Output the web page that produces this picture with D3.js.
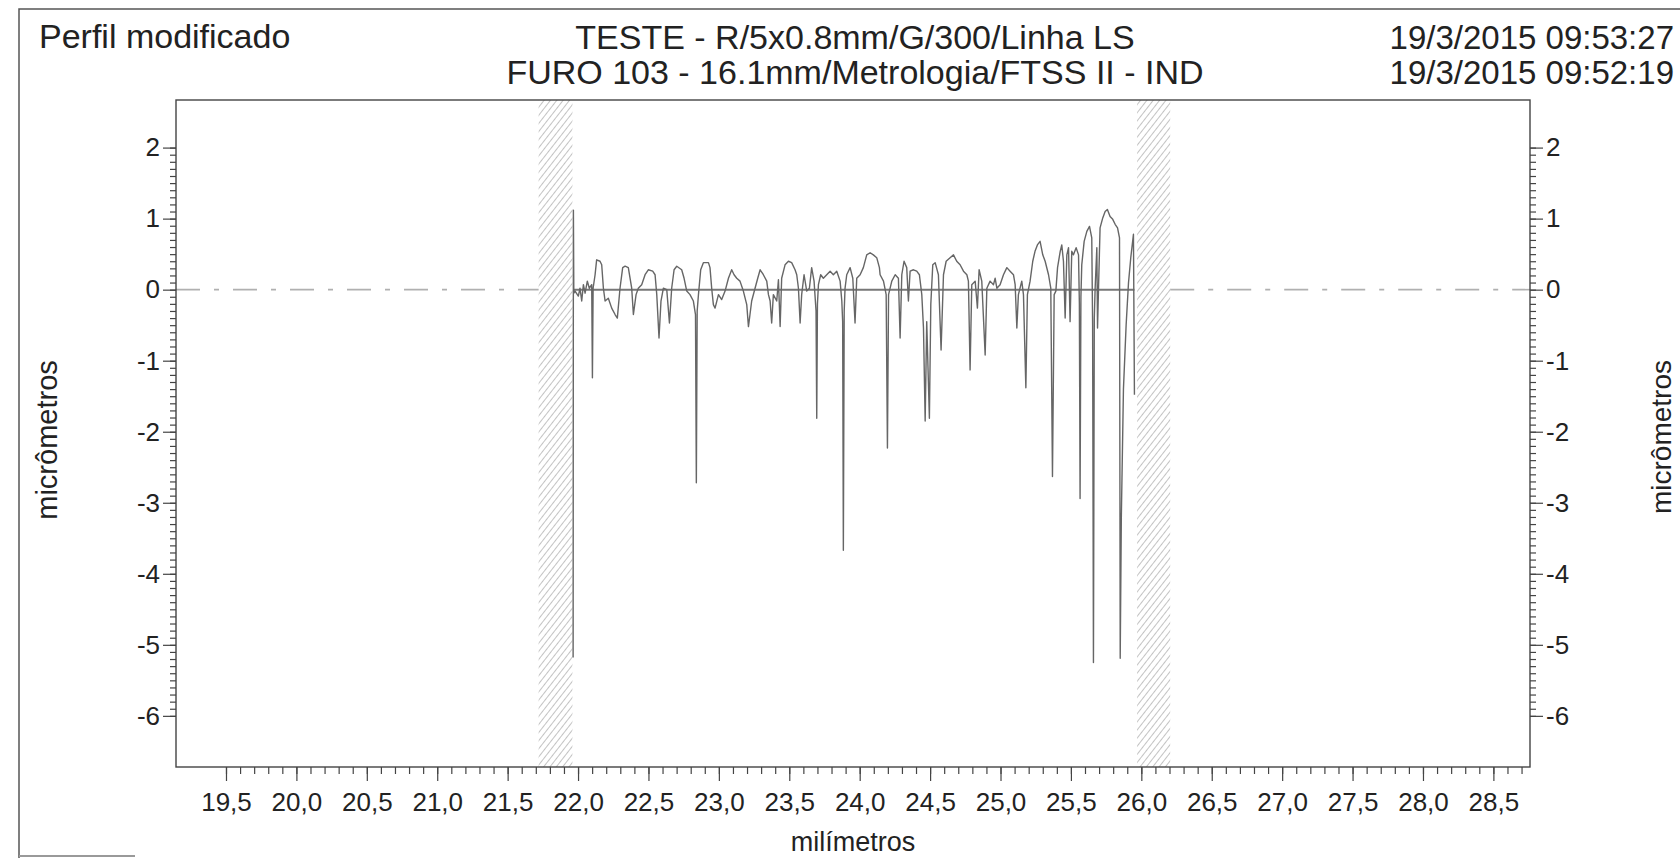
<!DOCTYPE html>
<html>
<head>
<meta charset="utf-8">
<script src="https://cdn.jsdelivr.net/npm/d3@7"></script>
<style>
  body { margin: 0; background: #fff; }
  svg { display: block; }
  text { font-family: "Liberation Sans", Arial, sans-serif; fill: #222; }
</style>
</head>
<body>
<div id="chart"></div>
<script>
// header texts
var titleLeft = "Perfil modificado";
var titleLines = ["TESTE - R/5x0.8mm/G/300/Linha LS", "FURO 103 - 16.1mm/Metrologia/FTSS II - IND"];
var dateLines = ["19/3/2015 09:53:27", "19/3/2015 09:52:19"];
var xTitle = "milímetros";
var yTitle = "micrômetros";

// axes (mm / µm)
var xDomain = [19.145, 28.76];
var yDomain = [-6.72, 2.67];
var xMajorTicks = [19.5, 20, 20.5, 21, 21.5, 22, 22.5, 23, 23.5, 24, 24.5, 25, 25.5, 26, 26.5, 27, 27.5, 28, 28.5];
var yMajorTicks = [-6, -5, -4, -3, -2, -1, 0, 1, 2];

// hatched (excluded) zones and the evaluated span
var excludedZones = [[21.72, 21.96], [25.97, 26.205]];
var evalSpan = [21.967, 25.951];

// measured profile, [mm, µm]
var profile = [
  [21.965,-5.18],[21.967,1.12],[21.970,-0.05],[21.979,-0.02],[22.002,-0.09],[22.014,0.02],[22.026,-0.16],[22.038,0.07],
  [22.050,-0.05],[22.066,0.12],[22.080,0.02],[22.097,0.07],[22.102,-1.24],[22.107,0.02],[22.121,0.21],[22.132,0.42],
  [22.156,0.40],[22.168,0.35],[22.180,0.02],[22.192,-0.16],[22.215,-0.12],[22.239,-0.26],[22.263,-0.35],[22.279,-0.40],
  [22.298,0.02],[22.317,0.31],[22.334,0.33],[22.357,0.31],[22.381,0.02],[22.393,-0.35],[22.412,-0.07],[22.428,0.02],
  [22.452,0.07],[22.476,0.21],[22.499,0.28],[22.530,0.26],[22.547,0.21],[22.559,-0.07],[22.575,-0.68],[22.589,-0.16],
  [22.606,0.02],[22.630,0.00],[22.649,-0.47],[22.665,0.02],[22.682,0.28],[22.701,0.33],[22.736,0.28],[22.753,0.16],
  [22.772,-0.02],[22.795,-0.07],[22.819,-0.16],[22.834,-0.35],[22.840,-2.72],[22.846,-0.30],[22.855,-0.07],[22.871,0.28],
  [22.890,0.38],[22.926,0.38],[22.937,0.31],[22.949,0.02],[22.961,-0.21],[22.973,-0.26],[22.997,-0.07],[23.020,-0.14],
  [23.044,-0.02],[23.068,0.16],[23.091,0.28],[23.108,0.21],[23.127,0.16],[23.150,0.12],[23.174,-0.02],[23.198,-0.21],
  [23.210,-0.52],[23.221,-0.35],[23.233,-0.16],[23.257,0.02],[23.276,0.16],[23.293,0.28],[23.316,0.21],[23.340,0.12],
  [23.352,-0.07],[23.364,-0.16],[23.375,-0.47],[23.387,-0.07],[23.411,-0.16],[23.423,0.14],[23.435,-0.52],[23.446,0.16],
  [23.470,0.35],[23.494,0.40],[23.517,0.38],[23.541,0.28],[23.553,0.21],[23.565,0.02],[23.577,-0.47],[23.588,-0.07],
  [23.605,0.21],[23.624,-0.02],[23.643,0.02],[23.659,0.31],[23.676,0.12],[23.690,-0.30],[23.695,-1.81],[23.700,-0.20],
  [23.707,0.07],[23.723,0.21],[23.742,0.16],[23.766,0.21],[23.790,0.26],[23.813,0.21],[23.837,0.26],[23.861,0.12],
  [23.873,-0.16],[23.879,-0.45],[23.884,-3.67],[23.890,-0.30],[23.896,0.02],[23.908,0.21],[23.932,0.31],[23.951,0.16],
  [23.967,-0.47],[23.979,0.16],[24.003,0.21],[24.026,0.31],[24.050,0.49],[24.074,0.52],[24.097,0.49],[24.121,0.45],
  [24.140,0.31],[24.145,0.21],[24.169,0.12],[24.188,-0.07],[24.197,-2.23],[24.205,-0.07],[24.228,0.12],[24.252,0.21],
  [24.275,0.16],[24.287,-0.68],[24.299,0.21],[24.315,0.40],[24.334,0.31],[24.346,-0.16],[24.358,0.26],[24.382,0.28],
  [24.405,0.26],[24.424,0.21],[24.441,-0.07],[24.453,-0.54],[24.465,-1.85],[24.476,-0.45],[24.495,-1.81],[24.505,-0.21],
  [24.519,0.35],[24.536,0.38],[24.559,0.21],[24.578,-0.85],[24.595,0.21],[24.614,0.40],[24.642,0.45],[24.666,0.49],
  [24.689,0.40],[24.713,0.35],[24.737,0.26],[24.761,0.21],[24.772,0.12],[24.784,-1.13],[24.796,0.07],[24.820,0.12],
  [24.836,-0.26],[24.848,0.28],[24.867,0.12],[24.891,-0.92],[24.903,0.02],[24.926,0.12],[24.950,0.07],[24.962,0.16],
  [24.974,0.02],[24.997,0.07],[25.021,0.21],[25.045,0.31],[25.068,0.26],[25.092,0.21],[25.104,0.07],[25.116,-0.54],
  [25.127,-0.07],[25.151,0.12],[25.163,-0.07],[25.180,-1.38],[25.191,-0.07],[25.210,0.12],[25.229,0.40],[25.245,0.54],
  [25.262,0.63],[25.281,0.68],[25.300,0.49],[25.317,0.40],[25.341,0.21],[25.357,0.02],[25.369,-2.63],[25.381,-0.07],
  [25.393,-0.02],[25.405,0.31],[25.424,0.54],[25.435,0.63],[25.447,0.40],[25.459,-0.40],[25.471,0.49],[25.483,0.59],
  [25.494,-0.45],[25.506,0.54],[25.518,0.49],[25.537,0.59],[25.554,0.49],[25.560,-0.20],[25.565,-2.94],[25.571,-0.10],
  [25.577,0.35],[25.594,0.68],[25.613,0.82],[25.632,0.89],[25.648,0.73],[25.654,-0.50],[25.660,-5.25],[25.666,-0.40],
  [25.672,0.02],[25.684,0.59],[25.689,-0.54],[25.696,0.02],[25.707,0.87],[25.726,1.01],[25.743,1.10],[25.759,1.13],
  [25.778,1.03],[25.797,0.99],[25.814,0.92],[25.831,0.87],[25.845,0.73],[25.850,-5.19],[25.858,-3.20],[25.873,-1.40],
  [25.892,-0.50],[25.909,0.10],[25.925,0.45],[25.944,0.78],[25.951,-1.48]
];

var width = 1680, height = 858;
var plot = { left: 176, top: 100, right: 1530, bottom: 767 };

var svg = d3.select("#chart").append("svg")
  .attr("width", width)
  .attr("height", height);

var x = d3.scaleLinear().domain(xDomain).range([plot.left, plot.right]);
var y = d3.scaleLinear().domain(yDomain).range([plot.bottom, plot.top]);

// hatch pattern for the excluded zones
svg.append("defs").append("pattern")
  .attr("id", "hatch")
  .attr("patternUnits", "userSpaceOnUse")
  .attr("width", 5)
  .attr("height", 5)
  .attr("patternTransform", "rotate(38)")
  .append("line")
  .attr("x1", 0).attr("y1", 0)
  .attr("x2", 0).attr("y2", 5)
  .attr("stroke", "#888")
  .attr("stroke-width", 1);

// outer frame (page border)
svg.append("path")
  .attr("d", "M19," + height + "V9H" + width)
  .attr("fill", "none")
  .attr("stroke", "#555")
  .attr("stroke-width", 1.5);
svg.append("line")
  .attr("x1", 19).attr("x2", 135)
  .attr("y1", 856).attr("y2", 856)
  .attr("stroke", "#999")
  .attr("stroke-width", 2);

// header
svg.append("text")
  .attr("x", 39).attr("y", 48)
  .style("font-size", "34px")
  .text(titleLeft);

svg.selectAll(".title")
  .data(titleLines)
  .enter().append("text")
  .attr("class", "title")
  .attr("x", 855)
  .attr("y", function (d, i) { return 49 + i * 35; })
  .attr("text-anchor", "middle")
  .style("font-size", "34px")
  .text(function (d) { return d; });

svg.selectAll(".date")
  .data(dateLines)
  .enter().append("text")
  .attr("class", "date")
  .attr("x", 1674)
  .attr("y", function (d, i) { return 49 + i * 35; })
  .attr("text-anchor", "end")
  .style("font-size", "33px")
  .text(function (d) { return d; });

// excluded zones
svg.selectAll(".zone")
  .data(excludedZones)
  .enter().append("rect")
  .attr("class", "zone")
  .attr("x", function (d) { return x(d[0]); })
  .attr("y", plot.top)
  .attr("width", function (d) { return x(d[1]) - x(d[0]); })
  .attr("height", plot.bottom - plot.top)
  .attr("fill", "url(#hatch)");

// reference line: dash-dot outside the evaluated span, solid inside
var refParts = [[xDomain[0], excludedZones[0][0]], [excludedZones[1][1], xDomain[1]]];
svg.selectAll(".ref")
  .data(refParts)
  .enter().append("line")
  .attr("class", "ref")
  .attr("x1", function (d) { return x(d[0]); })
  .attr("x2", function (d) { return x(d[1]); })
  .attr("y1", y(0)).attr("y2", y(0))
  .attr("stroke", "#b0b0b0")
  .attr("stroke-width", 1.6)
  .attr("stroke-dasharray", "24,14,5,14");

svg.append("line")
  .attr("x1", x(evalSpan[0])).attr("x2", x(evalSpan[1]))
  .attr("y1", y(0)).attr("y2", y(0))
  .attr("stroke", "#777")
  .attr("stroke-width", 2);

// profile
var line = d3.line()
  .x(function (d) { return x(d[0]); })
  .y(function (d) { return y(d[1]); });

svg.append("path")
  .datum(profile)
  .attr("d", line)
  .attr("fill", "none")
  .attr("stroke", "#666")
  .attr("stroke-width", 1.4)
  .attr("stroke-linejoin", "round");

// plot box
svg.append("rect")
  .attr("x", plot.left).attr("y", plot.top)
  .attr("width", plot.right - plot.left)
  .attr("height", plot.bottom - plot.top)
  .attr("fill", "none")
  .attr("stroke", "#444")
  .attr("stroke-width", 1.4);

// axes
var fmtX = function (d) { return d3.format(".1f")(d).replace(".", ","); };
var fmtY = function (d) { return String(d); };
var xMinor = d3.range(195, 288).map(function (d) { return d / 10; });
var yMinor = d3.range(-60, 21).map(function (d) { return d / 10; });

function styleAxis(g) {
  g.select(".domain").remove();
  g.selectAll("line").attr("stroke", "#444").attr("stroke-width", 1.2);
  g.selectAll("text").style("font-size", "26px").attr("fill", "#222");
}

svg.append("g")
  .attr("transform", "translate(0," + plot.bottom + ")")
  .call(d3.axisBottom(x).tickValues(xMinor).tickSize(7).tickFormat(""))
  .call(styleAxis);
svg.append("g")
  .attr("transform", "translate(0," + plot.bottom + ")")
  .call(d3.axisBottom(x).tickValues(xMajorTicks).tickSize(14).tickPadding(12).tickFormat(fmtX))
  .call(styleAxis);

svg.append("g")
  .attr("transform", "translate(" + plot.left + ",0)")
  .call(d3.axisLeft(y).tickValues(yMinor).tickSize(6).tickFormat(""))
  .call(styleAxis);
svg.append("g")
  .attr("transform", "translate(" + plot.left + ",0)")
  .call(d3.axisLeft(y).tickValues(yMajorTicks).tickSize(13).tickPadding(3).tickFormat(fmtY))
  .call(styleAxis);

svg.append("g")
  .attr("transform", "translate(" + plot.right + ",0)")
  .call(d3.axisRight(y).tickValues(yMinor).tickSize(6).tickFormat(""))
  .call(styleAxis);
svg.append("g")
  .attr("transform", "translate(" + plot.right + ",0)")
  .call(d3.axisRight(y).tickValues(yMajorTicks).tickSize(13).tickPadding(3).tickFormat(fmtY))
  .call(styleAxis);

// axis titles
svg.append("text")
  .attr("x", 853)
  .attr("y", 851)
  .attr("text-anchor", "middle")
  .style("font-size", "27px")
  .text(xTitle);

svg.append("text")
  .attr("transform", "translate(57,440) rotate(-90)")
  .attr("text-anchor", "middle")
  .style("font-size", "29px")
  .text(yTitle);

svg.append("text")
  .attr("transform", "translate(1671,437) rotate(-90)")
  .attr("text-anchor", "middle")
  .style("font-size", "28px")
  .text(yTitle);
</script>
</body>
</html>
